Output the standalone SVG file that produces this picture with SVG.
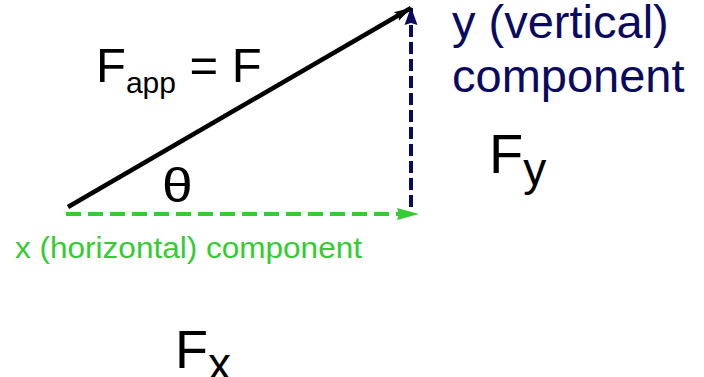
<svg xmlns="http://www.w3.org/2000/svg" width="704" height="377" viewBox="0 0 704 377">
<style>
text{font-family:"Liberation Sans",Arial,sans-serif}
.blk{fill:#000}
.nav{fill:#0a0a5e}
.grn{fill:#33cc33}
</style>
<defs>
<marker id="ab" markerWidth="18" markerHeight="12" refX="17" refY="6" orient="auto" markerUnits="userSpaceOnUse"><path d="M0,1 L18,6 L0,11 L3,6 Z" fill="#000"/></marker>
<marker id="an" markerWidth="18" markerHeight="14" refX="17" refY="7" orient="auto" markerUnits="userSpaceOnUse"><path d="M0,0.5 L18,7 L0,13.5 L2,7 Z" fill="#0a0a5e"/></marker>
<marker id="ag" markerWidth="22" markerHeight="14" refX="21" refY="7" orient="auto" markerUnits="userSpaceOnUse"><path d="M0,1 L22,7 L0,13 L2,7 Z" fill="#33cc33"/></marker>
</defs>
<g id="connectors">
<line x1="411" y1="210" x2="411" y2="8" stroke="#0a0a5e" stroke-width="4" stroke-dasharray="12,5" stroke-dashoffset="-3" marker-end="url(#an)"/>
<line x1="68" y1="207" x2="411" y2="8" stroke="#000" stroke-width="4.5" marker-end="url(#ab)"/>
<line x1="66" y1="214" x2="418" y2="214" stroke="#33cc33" stroke-width="4" stroke-dasharray="15,7" marker-end="url(#ag)"/>
</g>
<g id="fapp"><text x="96" y="82" font-size="49" class="blk">F<tspan font-size="30" dy="11">app</tspan><tspan dy="-11"> = F</tspan></text></g>
<g id="theta"><text x="0" y="0" font-size="48" class="blk" transform="translate(162,202) scale(1.15,1)">θ</text></g>
<g id="xlabel"><text x="15" y="258" font-size="30" textLength="347" lengthAdjust="spacingAndGlyphs" class="grn">x (horizontal) component</text></g>
<g id="ylabel"><text x="452" y="38" font-size="47" class="nav">y (vertical)</text><text x="452" y="92" font-size="47" class="nav">component</text></g>
<g id="fy"><text x="489" y="173" font-size="56" class="blk">F<tspan font-size="46" dy="12">y</tspan></text></g>
<g id="fx"><text x="175" y="368" font-size="54" class="blk">F<tspan font-size="46" dy="12">x</tspan></text></g>
</svg>
